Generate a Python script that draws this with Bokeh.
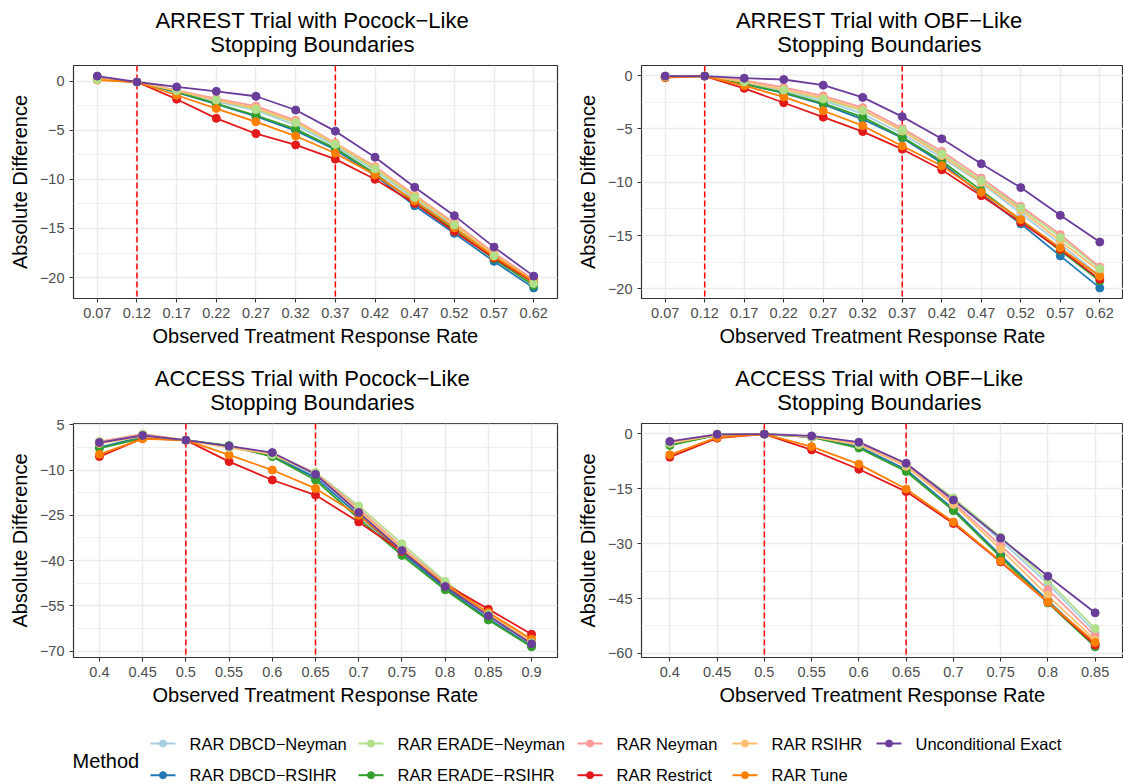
from bokeh.core.properties import value
from bokeh.embed import file_html
from bokeh.layouts import column, row
from bokeh.models import CustomJSTickFormatter, FixedTicker, Label, Range1d, Span
from bokeh.plotting import figure
from bokeh.resources import INLINE

FONT = "Liberation Sans"
MINUS = "\u2212"

# Methods, in legend order, with their colours (ColorBrewer "Paired")
methods = [
    "RAR DBCD\u2212Neyman", "RAR DBCD\u2212RSIHR", "RAR ERADE\u2212Neyman",
    "RAR ERADE\u2212RSIHR", "RAR Neyman", "RAR Restrict", "RAR RSIHR",
    "RAR Tune", "Unconditional Exact",
]
colors = ["#A6CEE3", "#1F78B4", "#B2DF8A", "#33A02C", "#FB9A99",
          "#E31A1C", "#FDBF6F", "#FF7F00", "#6A3D9A"]

# Observed treatment response rates (x categories)
arrest_rates = [0.07, 0.12, 0.17, 0.22, 0.27, 0.32, 0.37, 0.42, 0.47, 0.52, 0.57, 0.62]
access_rates = [0.4, 0.45, 0.5, 0.55, 0.6, 0.65, 0.7, 0.75, 0.8, 0.85, 0.9]
access_obf_rates = [0.4, 0.45, 0.5, 0.55, 0.6, 0.65, 0.7, 0.75, 0.8, 0.85]

# Stopping-boundary reference rates (dashed lines)
arrest_bounds = [0.12, 0.37]
access_bounds = [0.5, 0.65]

# Y-axis ticks per panel
arrest_pocock_ticks = [0, -5, -10, -15, -20]
arrest_obf_ticks = [0, -5, -10, -15, -20]
access_pocock_ticks = [5, -10, -25, -40, -55, -70]
access_obf_ticks = [0, -15, -30, -45, -60]

# ARREST trial, Pocock-like boundaries: absolute difference by method
arrest_pocock_dbcd_neyman = [0.2, -0.1, -1.05, -2.1, -3.0, -4.5, -6.6, -9.1, -12.0, -14.85, -17.9, -20.55]
arrest_pocock_dbcd_rsihr = [0.2, -0.1, -1.15, -2.35, -3.6, -5.05, -7.0, -9.6, -12.7, -15.5, -18.35, -21.05]
arrest_pocock_erade_neyman = [0.15, -0.1, -1.0, -1.9, -2.9, -4.25, -6.45, -8.95, -11.85, -14.65, -17.8, -20.6]
arrest_pocock_erade_rsihr = [0.2, -0.1, -1.1, -2.3, -3.5, -4.9, -6.85, -9.4, -12.35, -15.15, -18.1, -20.8]
arrest_pocock_neyman = [0.25, -0.1, -0.95, -1.8, -2.55, -4.0, -6.3, -8.7, -11.6, -14.45, -17.5, -20.2]
arrest_pocock_restrict = [0.2, -0.1, -1.85, -3.8, -5.35, -6.5, -7.95, -10.0, -12.45, -15.3, -18.0, -20.5]
arrest_pocock_rsihr = [0.2, -0.1, -1.0, -1.95, -2.75, -4.15, -6.35, -8.8, -11.7, -14.6, -17.65, -20.35]
arrest_pocock_tune = [0.1, -0.1, -1.45, -2.8, -4.15, -5.6, -7.35, -9.55, -12.2, -14.95, -17.85, -20.4]
arrest_pocock_uncond = [0.5, -0.1, -0.6, -1.05, -1.55, -2.95, -5.1, -7.75, -10.8, -13.7, -16.9, -19.85]

# ARREST trial, OBF-like boundaries
arrest_obf_dbcd_neyman = [-0.1, -0.05, -0.7, -1.5, -2.35, -3.6, -5.45, -7.7, -10.1, -12.9, -15.8, -18.75]
arrest_obf_dbcd_rsihr = [-0.1, -0.05, -0.8, -1.65, -2.7, -4.1, -5.85, -8.2, -11.1, -13.9, -16.9, -19.9]
arrest_obf_erade_neyman = [-0.1, -0.05, -0.6, -1.35, -2.2, -3.3, -5.1, -7.33, -9.83, -12.4, -15.16, -18.1]
arrest_obf_erade_rsihr = [-0.1, -0.05, -0.8, -1.6, -2.6, -3.9, -5.77, -8.0, -10.76, -13.57, -16.4, -19.25]
arrest_obf_neyman = [-0.1, -0.05, -0.45, -1.1, -1.9, -3.0, -4.95, -7.1, -9.6, -12.25, -14.9, -17.95]
arrest_obf_restrict = [-0.2, -0.05, -1.2, -2.55, -3.9, -5.25, -6.9, -8.83, -11.26, -13.75, -16.3, -19.1]
arrest_obf_rsihr = [-0.1, -0.05, -0.6, -1.3, -2.1, -3.2, -5.2, -7.5, -10.0, -12.6, -15.5, -18.35]
arrest_obf_tune = [-0.15, -0.05, -0.95, -2.0, -3.3, -4.7, -6.6, -8.45, -10.95, -13.5, -16.15, -18.8]
arrest_obf_uncond = [-0.05, -0.05, -0.25, -0.37, -0.9, -2.05, -3.85, -5.93, -8.27, -10.5, -13.1, -15.6]

# ACCESS trial, Pocock-like boundaries
access_pocock_dbcd_neyman = [-1.0, 1.3, -0.1, -2.3, -5.2, -12.0, -23.3, -35.9, -47.2, -58.1, -67.4]
access_pocock_dbcd_rsihr = [-2.5, 1.0, -0.1, -2.0, -5.4, -12.5, -25.0, -37.5, -49.2, -59.2, -68.3]
access_pocock_erade_neyman = [-0.56, 1.9, -0.1, -2.55, -5.0, -10.8, -21.9, -34.4, -46.9, -57.8, -67.2]
access_pocock_erade_rsihr = [-2.8, 0.55, -0.1, -1.9, -5.55, -13.3, -26.1, -38.3, -49.7, -59.7, -68.6]
access_pocock_neyman = [-0.56, 1.9, -0.1, -2.4, -4.5, -11.0, -22.8, -35.5, -47.5, -57.9, -67.0]
access_pocock_restrict = [-5.55, 0.5, -0.1, -7.2, -13.3, -18.3, -27.2, -37.0, -47.8, -56.1, -64.4]
access_pocock_rsihr = [-1.2, 1.2, -0.1, -2.5, -4.8, -11.2, -23.5, -36.0, -47.8, -58.0, -66.8]
access_pocock_tune = [-4.8, 0.33, -0.1, -5.0, -10.0, -16.1, -25.0, -36.7, -48.1, -57.2, -66.1]
access_pocock_uncond = [-0.9, 1.45, -0.1, -2.1, -4.2, -11.4, -24.1, -36.7, -48.6, -58.3, -67.6]

# ACCESS trial, OBF-like boundaries
access_obf_dbcd_neyman = [-2.3, -0.2, -0.1, -0.7, -2.4, -8.4, -18.0, -29.1, -41.0, -54.2]
access_obf_dbcd_rsihr = [-2.9, -0.4, -0.1, -0.9, -3.5, -9.8, -20.5, -33.2, -45.6, -57.5]
access_obf_erade_neyman = [-2.56, -0.1, -0.1, -0.73, -2.84, -8.3, -17.5, -28.2, -40.1, -53.2]
access_obf_erade_rsihr = [-3.2, -0.4, -0.1, -0.9, -3.9, -10.3, -21.0, -33.7, -46.2, -58.2]
access_obf_neyman = [-2.4, -0.3, -0.1, -0.8, -2.7, -8.6, -18.75, -30.5, -42.5, -55.2]
access_obf_restrict = [-6.4, -1.2, -0.1, -4.4, -9.7, -15.8, -24.5, -35.0, -46.0, -57.7]
access_obf_rsihr = [-2.6, -0.3, -0.1, -0.8, -3.0, -8.9, -19.3, -31.5, -44.2, -56.3]
access_obf_tune = [-5.76, -1.0, -0.1, -3.5, -8.3, -15.1, -24.1, -34.8, -46.0, -57.0]
access_obf_uncond = [-2.1, -0.15, -0.1, -0.6, -2.3, -8.05, -18.1, -28.5, -38.9, -48.9]

arrest_pocock = [arrest_pocock_dbcd_neyman, arrest_pocock_dbcd_rsihr, arrest_pocock_erade_neyman,
                 arrest_pocock_erade_rsihr, arrest_pocock_neyman, arrest_pocock_restrict,
                 arrest_pocock_rsihr, arrest_pocock_tune, arrest_pocock_uncond]
arrest_obf = [arrest_obf_dbcd_neyman, arrest_obf_dbcd_rsihr, arrest_obf_erade_neyman,
              arrest_obf_erade_rsihr, arrest_obf_neyman, arrest_obf_restrict,
              arrest_obf_rsihr, arrest_obf_tune, arrest_obf_uncond]
access_pocock = [access_pocock_dbcd_neyman, access_pocock_dbcd_rsihr, access_pocock_erade_neyman,
                 access_pocock_erade_rsihr, access_pocock_neyman, access_pocock_restrict,
                 access_pocock_rsihr, access_pocock_tune, access_pocock_uncond]
access_obf = [access_obf_dbcd_neyman, access_obf_dbcd_rsihr, access_obf_erade_neyman,
              access_obf_erade_rsihr, access_obf_neyman, access_obf_restrict,
              access_obf_rsihr, access_obf_tune, access_obf_uncond]

GRID = "#EBEBEB"
BORDER = "#333333"
TICK_TEXT = "#4D4D4D"
PANEL_H = 360
GAP_TOP = 7  # room above the frame for the top tick label

# points are stacked with the light-green series on top
POINT_ORDER = [0, 1, 3, 4, 5, 6, 7, 2, 8]

# distance (px) of each title line's centre above the plot frame
TITLE_RISE = [45, 21]


def blank_strip(width, height, x_range, y_range, left=0, right=0):
    f = figure(width=width, height=height, x_range=x_range, y_range=y_range,
               x_axis_type=None, y_axis_type=None, output_backend="svg",
               toolbar_location=None, min_border=0,
               min_border_left=left, min_border_right=right)
    f.outline_line_color = None
    f.xgrid.visible = False
    f.ygrid.visible = False
    return f


def make_panel(title_lines, rates, series, bounds, y_ticks, width, left, right, top, bottom):
    # title strip above the plot; its frame spans the plot frame, so x=0.5 is the centre
    strip_h = top - GAP_TOP
    head = blank_strip(width, strip_h, Range1d(0, 1), Range1d(strip_h, 0), left, right)
    for text, rise in zip(title_lines, TITLE_RISE):
        head.add_layout(Label(x=0.5, y=top - rise, text=text,
                              text_align="center", text_baseline="middle",
                              text_font=FONT, text_font_size="22px", text_color="black"))

    step = rates[1] - rates[0]
    all_y = [v for s in series for v in s]
    lo, hi = min(all_y), max(all_y)
    pad = 0.05 * (hi - lo)
    p = figure(
        width=width, height=PANEL_H - strip_h,
        x_range=Range1d(rates[0] - 0.6 * step, rates[-1] + 0.6 * step),
        y_range=Range1d(lo - pad, hi + pad),
        output_backend="svg", toolbar_location=None,
        min_border_left=left, min_border_right=right,
        min_border_top=GAP_TOP, min_border_bottom=bottom,
    )
    p.background_fill_color = "white"
    p.border_fill_color = "white"
    p.outline_line_color = BORDER
    p.outline_line_width = 1.2

    xt = FixedTicker(ticks=rates)
    interval = y_ticks[0] - y_ticks[1]
    minor = [t - interval / 2 for t in y_ticks] + [y_ticks[0] + interval / 2]
    yt = FixedTicker(ticks=y_ticks, minor_ticks=minor)
    p.xaxis.ticker = xt
    p.xgrid.ticker = xt
    p.yaxis.ticker = yt
    p.ygrid.ticker = yt
    p.xaxis.formatter = CustomJSTickFormatter(code="return tick.toString();")
    p.yaxis.formatter = CustomJSTickFormatter(
        code="return tick < 0 ? '" + MINUS + "' + Math.abs(tick) : tick.toString();")

    p.xgrid.grid_line_color = GRID
    p.xgrid.grid_line_width = 1.5
    p.ygrid.grid_line_color = GRID
    p.ygrid.grid_line_width = 1.5
    p.ygrid.minor_grid_line_color = GRID
    p.ygrid.minor_grid_line_width = 0.8

    for ax in (p.xaxis[0], p.yaxis[0]):
        ax.axis_line_color = None
        ax.major_tick_line_color = BORDER
        ax.major_tick_line_width = 1.1
        ax.major_tick_in = 0
        ax.major_tick_out = 4
        ax.minor_tick_line_color = None
        ax.major_label_text_font = FONT
        ax.major_label_text_font_size = "14.5px"
        ax.major_label_text_color = TICK_TEXT
        ax.axis_label_text_font = FONT
        ax.axis_label_text_font_size = "20px"
        ax.axis_label_text_font_style = "normal"
        ax.axis_label_text_color = "black"
    p.xaxis.axis_label = "Observed Treatment Response Rate"
    p.xaxis.axis_label_standoff = 4
    p.yaxis.axis_label = "Absolute Difference"
    p.yaxis.axis_label_standoff = 6

    for b in bounds:
        p.add_layout(Span(location=b, dimension="height", line_color="#FF0000",
                          line_width=1.5, line_dash="6 3", level="underlay"))

    for ys, c in zip(series, colors):
        p.line(rates, ys, line_color=c, line_width=1.8)
    for i in POINT_ORDER:
        p.scatter(rates, series[i], size=8, fill_color=colors[i], line_color=colors[i])
    return column(head, p)


p1 = make_panel(["ARREST Trial with Pocock\u2212Like ", " Stopping Boundaries"],
                arrest_rates, arrest_pocock, arrest_bounds, arrest_pocock_ticks,
                566, 73, 9, 65, 62)
p2 = make_panel(["ARREST Trial with OBF\u2212Like ", " Stopping Boundaries"],
                arrest_rates, arrest_obf, arrest_bounds, arrest_obf_ticks,
                557, 75, 0, 65, 62)
p3 = make_panel(["ACCESS Trial with Pocock\u2212Like ", " Stopping Boundaries"],
                access_rates, access_pocock, access_bounds, access_pocock_ticks,
                566, 73, 9, 63, 63)
p4 = make_panel(["ACCESS Trial with OBF\u2212Like ", " Stopping Boundaries"],
                access_obf_rates, access_obf, access_bounds, access_obf_ticks,
                557, 75, 0, 63, 63)

# Legend strip: two rows, filled column by column
leg = blank_strip(1123, 64, Range1d(0, 1123), Range1d(64, 0))
key_left = [150, 358, 577, 732, 876]
row_y = [23, 54.7]
key_len = 25
text_gap = 39
kx0, kx1, kxm, ky, tx, ty = [], [], [], [], [], []
for i, m in enumerate(methods):
    col, r = divmod(i, 2)
    xk = key_left[col]
    kx0.append(xk)
    kx1.append(xk + key_len)
    kxm.append(xk + key_len / 2)
    ky.append(row_y[r])
    tx.append(xk + text_gap)
    ty.append(row_y[r])
leg.segment(x0=kx0, y0=ky, x1=kx1, y1=ky, line_color=colors, line_width=2)
leg.scatter(kxm, ky, size=7, fill_color=colors, line_color=colors)
leg.text(tx, ty, text=methods, text_font=value(FONT), text_font_size="16.5px",
         text_baseline="middle", text_align="left", text_color="black")
leg.text([72], [40], text=["Method"], text_font=value(FONT), text_font_size="20px",
         text_baseline="middle", text_align="left", text_color="black")

layout = column(row(p1, p2), row(p3, p4), leg)
open("out.html", "w").write(file_html(layout, INLINE))
